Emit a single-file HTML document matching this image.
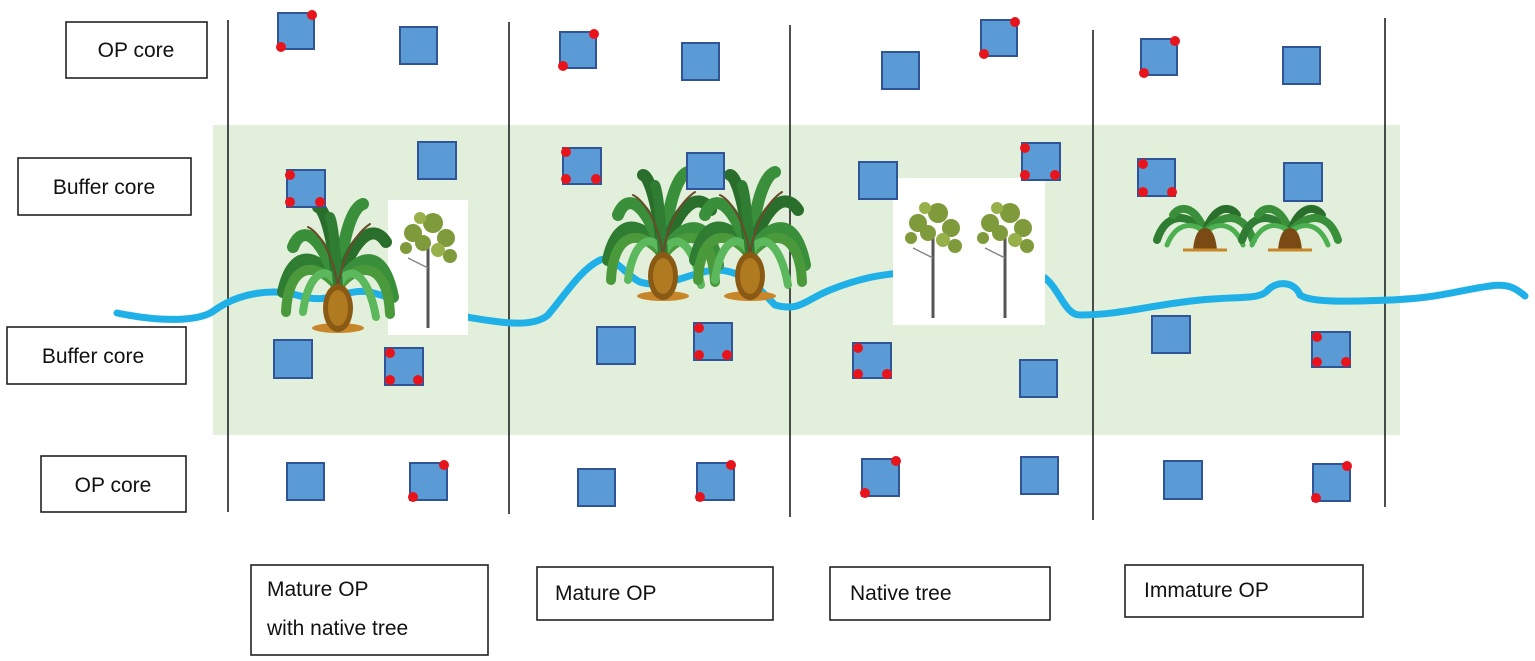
<!DOCTYPE html>
<html><head><meta charset="utf-8"><style>
html,body{margin:0;padding:0;background:#fff;}
svg{display:block;}
text{font-family:"Liberation Sans","DejaVu Sans",sans-serif;font-size:21px;fill:#111;}
</style></head><body>
<svg width="1535" height="661" viewBox="0 0 1535 661" xmlns="http://www.w3.org/2000/svg">
<defs>
<g id="palm">
  <g fill="none" stroke-linecap="round">
    <path d="M0,-45 C-20,-80 -45,-85 -55,-40" stroke="#2f7d32" stroke-width="12"/>
    <path d="M0,-45 C-25,-75 -50,-65 -52,-20" stroke="#4a9a3c" stroke-width="10"/>
    <path d="M0,-45 C-15,-95 -35,-110 -45,-85" stroke="#3a8f3a" stroke-width="12"/>
    <path d="M0,-45 C-5,-100 -15,-125 -20,-125" stroke="#2a6e2c" stroke-width="12"/>
    <path d="M0,-45 C5,-100 15,-125 25,-128" stroke="#3a8f3a" stroke-width="12"/>
    <path d="M0,-45 C15,-95 35,-110 48,-90" stroke="#2a6e2c" stroke-width="12"/>
    <path d="M0,-45 C20,-80 45,-85 55,-35" stroke="#3a8f3a" stroke-width="12"/>
    <path d="M0,-45 C25,-75 50,-65 52,-18" stroke="#4a9a3c" stroke-width="10"/>
    <path d="M0,-45 C-10,-70 -30,-60 -35,-20" stroke="#5cb85c" stroke-width="8"/>
    <path d="M0,-45 C10,-70 30,-60 38,-15" stroke="#5cb85c" stroke-width="8"/>
    <path d="M0,-45 C-3,-90 -5,-110 -8,-115" stroke="#2e7d32" stroke-width="10"/>
    <path d="M0,-45 C-5,-80 -20,-100 -30,-105" stroke="#6b4a2a" stroke-width="2"/>
    <path d="M0,-45 C5,-80 20,-100 32,-108" stroke="#6b4a2a" stroke-width="2"/>
  </g>
  <ellipse cx="0" cy="-4" rx="26" ry="5" fill="#c8862a"/>
  <ellipse cx="0" cy="-24" rx="15" ry="24" fill="#8a5a14"/>
  <ellipse cx="0" cy="-24" rx="10" ry="18" fill="#b07a20"/>
</g>
<g id="ipalm">
  <g fill="none" stroke-linecap="round" stroke-width="8">
    <path d="M0,-18 C-20,-40 -40,-35 -48,-10" stroke="#2f7d32"/>
    <path d="M0,-18 C-10,-45 -25,-45 -32,-35" stroke="#3a8f3a"/>
    <path d="M0,-18 C10,-45 25,-45 32,-35" stroke="#2a6e2c"/>
    <path d="M0,-18 C20,-40 40,-35 48,-10" stroke="#3a8f3a"/>
    <path d="M0,-18 C-15,-30 -30,-25 -38,-5" stroke="#4caf50" stroke-width="5"/>
    <path d="M0,-18 C15,-30 30,-25 38,-5" stroke="#4caf50" stroke-width="5"/>
  </g>
  <path d="M-12,0 Q-10,-22 0,-22 Q10,-22 12,0 Z" fill="#7a4a14"/>
  <line x1="-22" y1="0" x2="22" y2="0" stroke="#c8862a" stroke-width="3"/>
</g>
<g id="tree">
  <line x1="0" y1="0" x2="0" y2="-80" stroke="#555" stroke-width="3"/>
  <line x1="0" y1="-60" x2="-20" y2="-70" stroke="#888" stroke-width="1.5"/>
  <g fill="#7f9a3a">
    <circle cx="-15" cy="-95" r="9"/><circle cx="5" cy="-105" r="10"/><circle cx="18" cy="-90" r="9"/>
    <circle cx="-5" cy="-85" r="8"/><circle cx="22" cy="-72" r="7"/><circle cx="-22" cy="-80" r="6"/>
    <circle cx="10" cy="-78" r="7" fill="#98b04a"/><circle cx="-8" cy="-110" r="6" fill="#98b04a"/>
  </g>
</g>
</defs>
<rect x="213" y="125" width="1187" height="310" fill="#e2efda"/>
<g stroke="#222" stroke-width="1.6">
<line x1="228" y1="20" x2="228" y2="512"/>
<line x1="509" y1="22" x2="509" y2="514"/>
<line x1="790" y1="25" x2="790" y2="517"/>
<line x1="1093" y1="30" x2="1093" y2="520"/>
<line x1="1385" y1="18" x2="1385" y2="507"/>
</g>
<path d="M117,313 C160,322 200,322 215,310 C240,292 275,288 300,296 C330,305 345,288 370,292 C400,300 440,315 500,322 C525,325 540,322 548,315 C565,295 580,270 600,260 C615,255 625,275 640,282 C665,290 690,272 715,270 C745,270 760,290 775,305 C800,312 805,300 830,290 C860,278 880,275 900,273 L1045,278 C1060,290 1065,315 1080,315 C1120,315 1150,305 1200,300 C1240,296 1260,300 1268,290 C1278,280 1295,282 1300,295 C1310,302 1340,302 1390,300 C1440,298 1460,290 1490,286 C1510,283 1518,290 1525,296" fill="none" stroke="#1fb0e8" stroke-width="7" stroke-linecap="round"/>
<rect x="388" y="200" width="80" height="135" fill="#fff"/>
<use href="#tree" transform="translate(428,328)"/>
<rect x="893" y="178" width="152" height="147" fill="#fff"/>
<use href="#tree" transform="translate(933,318)"/>
<use href="#tree" transform="translate(1005,318)"/>
<use href="#palm" transform="translate(338,332)"/>
<use href="#palm" transform="translate(663,300)"/>
<use href="#palm" transform="translate(750,300)"/>
<use href="#ipalm" transform="translate(1205,250)"/>
<use href="#ipalm" transform="translate(1290,250)"/>
<g fill="#5b9bd5" stroke="#2f5597" stroke-width="2">
<rect x="278" y="13" width="36" height="36"/><rect x="400" y="27" width="37" height="37"/>
<rect x="560" y="32" width="36" height="36"/><rect x="682" y="43" width="37" height="37"/>
<rect x="882" y="52" width="37" height="37"/><rect x="981" y="20" width="36" height="36"/>
<rect x="1141" y="39" width="36" height="36"/><rect x="1283" y="47" width="37" height="37"/>
<rect x="418" y="142" width="38" height="37"/><rect x="287" y="170" width="38" height="37"/>
<rect x="563" y="148" width="38" height="36"/><rect x="687" y="153" width="37" height="36"/>
<rect x="859" y="162" width="38" height="37"/><rect x="1022" y="143" width="38" height="37"/>
<rect x="1138" y="159" width="37" height="37"/><rect x="1284" y="163" width="38" height="38"/>
<rect x="274" y="340" width="38" height="38"/><rect x="385" y="348" width="38" height="37"/>
<rect x="597" y="327" width="38" height="37"/><rect x="694" y="323" width="38" height="37"/>
<rect x="853" y="343" width="38" height="35"/><rect x="1020" y="360" width="37" height="37"/>
<rect x="1152" y="316" width="38" height="37"/><rect x="1312" y="332" width="38" height="35"/>
<rect x="287" y="463" width="37" height="37"/><rect x="410" y="463" width="37" height="37"/>
<rect x="578" y="469" width="37" height="37"/><rect x="697" y="463" width="37" height="37"/>
<rect x="862" y="459" width="37" height="37"/><rect x="1021" y="457" width="37" height="37"/>
<rect x="1164" y="461" width="38" height="38"/><rect x="1313" y="464" width="37" height="37"/>
</g>
<g fill="#e8141c">
<circle cx="312" cy="15" r="5"/><circle cx="281" cy="47" r="5"/>
<circle cx="594" cy="34" r="5"/><circle cx="563" cy="66" r="5"/>
<circle cx="1015" cy="22" r="5"/><circle cx="984" cy="54" r="5"/>
<circle cx="1175" cy="41" r="5"/><circle cx="1144" cy="73" r="5"/>
<circle cx="290" cy="175" r="5"/><circle cx="290" cy="202" r="5"/><circle cx="320" cy="202" r="5"/>
<circle cx="566" cy="152" r="5"/><circle cx="566" cy="179" r="5"/><circle cx="596" cy="179" r="5"/>
<circle cx="1025" cy="148" r="5"/><circle cx="1025" cy="175" r="5"/><circle cx="1055" cy="175" r="5"/>
<circle cx="1143" cy="164" r="5"/><circle cx="1143" cy="192" r="5"/><circle cx="1172" cy="192" r="5"/>
<circle cx="390" cy="353" r="5"/><circle cx="390" cy="380" r="5"/><circle cx="418" cy="380" r="5"/>
<circle cx="699" cy="328" r="5"/><circle cx="699" cy="355" r="5"/><circle cx="727" cy="355" r="5"/>
<circle cx="858" cy="348" r="5"/><circle cx="858" cy="374" r="5"/><circle cx="887" cy="374" r="5"/>
<circle cx="1317" cy="337" r="5"/><circle cx="1317" cy="362" r="5"/><circle cx="1346" cy="362" r="5"/>
<circle cx="444" cy="465" r="5"/><circle cx="413" cy="497" r="5"/>
<circle cx="731" cy="465" r="5"/><circle cx="700" cy="497" r="5"/>
<circle cx="896" cy="461" r="5"/><circle cx="865" cy="493" r="5"/>
<circle cx="1347" cy="466" r="5"/><circle cx="1316" cy="498" r="5"/>
</g>
<g fill="#fff" stroke="#222" stroke-width="1.6">
<rect x="66" y="22" width="141" height="56"/>
<rect x="18" y="158" width="173" height="57"/>
<rect x="7" y="327" width="179" height="57"/>
<rect x="41" y="456" width="145" height="56"/>
<rect x="251" y="565" width="237" height="90"/>
<rect x="537" y="567" width="236" height="53"/>
<rect x="830" y="567" width="220" height="53"/>
<rect x="1125" y="565" width="238" height="52"/>
</g>
<text x="136" y="57" text-anchor="middle">OP core</text>
<text x="104" y="194" text-anchor="middle">Buffer core</text>
<text x="93" y="363" text-anchor="middle">Buffer core</text>
<text x="113" y="492" text-anchor="middle">OP core</text>
<text x="267" y="596">Mature OP</text>
<text x="267" y="635">with native tree</text>
<text x="555" y="600">Mature OP</text>
<text x="850" y="600">Native tree</text>
<text x="1144" y="597">Immature OP</text>
</svg>
</body></html>
